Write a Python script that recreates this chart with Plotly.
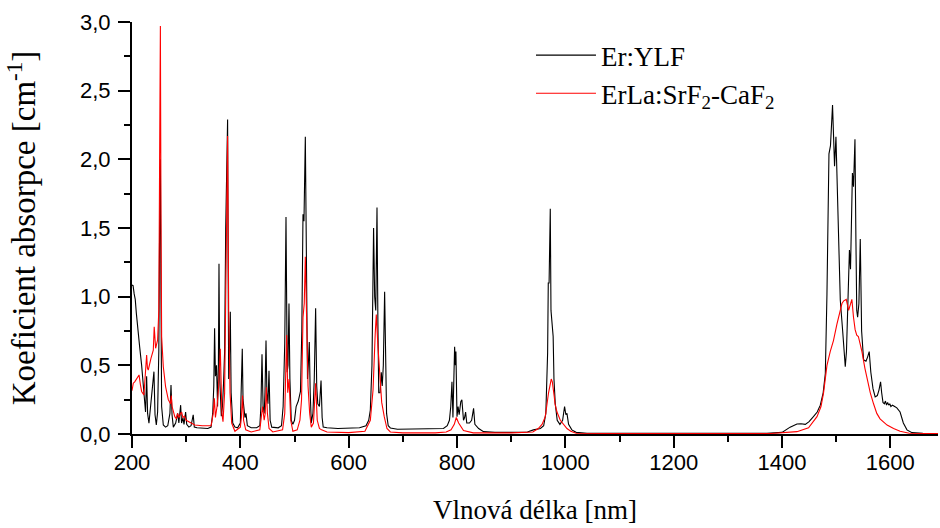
import plotly.graph_objects as go

# ---- Er:YLF (black) ----
wl_ylf = [200, 202, 204, 206, 208, 211.6, 214, 217.8, 220, 222.7, 225, 227, 228.8, 231.3, 234.6, 237.5,
          240.5, 242.5, 244.9, 247.3, 249.5, 251, 252.4, 253.5, 254.7, 257.8, 262, 266, 270, 272, 273.9,
          276.3, 280.6, 284.3, 286.5, 289.8, 291.5, 294, 296, 299, 301, 305, 309, 313, 315, 320, 330, 340,
          346, 349, 351, 352.5, 354, 356, 358, 359.5, 360.6, 362, 364.9, 367, 369, 371, 373, 374.3, 375.5,
          376.5, 377.5, 378.5, 379.8, 381.5, 383, 386, 390, 395, 400, 402, 403.6, 405, 407, 408.5, 410.4,
          413, 420, 430, 436, 438, 440, 442, 444, 445.5, 447.4, 449, 451, 452.9, 455, 458, 470, 476, 479,
          482, 484.3, 486.5, 488, 489.8, 491.5, 494, 497, 500, 503, 507, 511, 513.5, 515.7, 517.5, 520,
          522.3, 524, 525.5, 527.3, 529, 531, 534, 536.5, 539, 541, 543, 546, 549, 551, 553, 560, 580, 600,
          620, 632, 637, 640, 643, 646, 648, 650, 652.3, 654, 655.5, 658, 660.2, 662, 664, 666.4, 668, 670,
          673, 677, 690, 720, 760, 775, 782, 786, 788.5, 790.7, 792.5, 794, 795.6, 797, 798, 800, 802, 804,
          807, 809, 812, 814, 815.9, 818, 823, 827, 830.6, 833, 840, 849, 870, 900, 930, 941, 954, 960, 964,
          967.3, 968.5, 970, 971, 972.2, 973.5, 975.3, 977.5, 979, 981.4, 985, 990, 995, 998.6, 1001, 1003,
          1006, 1012, 1020, 1040, 1100, 1200, 1300, 1372, 1400, 1415, 1427.6, 1435, 1443, 1450, 1458, 1465,
          1470.7, 1476, 1480, 1483, 1486.7, 1489.5, 1493.3, 1495, 1497, 1499.6, 1501.5, 1504, 1507.6, 1512,
          1516.8, 1519, 1521, 1523, 1524.5, 1526.5, 1528.5, 1530, 1532, 1534.7, 1536.5, 1538, 1539.6, 1542,
          1544.5, 1547, 1550.6, 1555, 1558, 1561, 1564, 1568, 1572, 1576, 1579, 1582, 1584, 1586.4, 1589,
          1591, 1593, 1595, 1597, 1599, 1601, 1604, 1608, 1612, 1618, 1624, 1630.7, 1640, 1660, 1688]
abs_ylf = [1.085, 1.08, 1.02, 0.98, 0.88, 0.76, 0.64, 0.5, 0.38, 0.27, 0.16, 0.42, 0.15, 0.078, 0.2, 0.3,
           0.454, 0.14, 0.066, 0.16, 0.6, 1.5, 2.0, 1.0, 0.2, 0.066, 0.05, 0.06, 0.15, 0.357, 0.14,
           0.05, 0.08, 0.15, 0.08, 0.21, 0.08, 0.12, 0.07, 0.16, 0.07, 0.05, 0.06, 0.14, 0.05, 0.045, 0.04, 0.04,
           0.05, 0.15, 0.35, 0.77, 0.42, 0.5, 0.2, 0.5, 1.24, 0.4, 0.13, 0.2, 0.37, 0.6, 1.5, 1.84, 2.0,
           2.29, 1.2, 0.4, 0.55, 0.89, 0.3, 0.08, 0.05, 0.045, 0.08, 0.3, 0.62, 0.25, 0.18, 0.12, 0.15,
           0.06, 0.045, 0.045, 0.06, 0.2, 0.58, 0.2, 0.15, 0.3, 0.68, 0.3, 0.22, 0.46, 0.1, 0.05, 0.045, 0.06, 0.2,
           0.66, 1.58, 0.45, 0.5, 0.95, 0.4, 0.1, 0.07, 0.1, 0.2, 0.24, 0.31, 0.75, 1.6, 1.55, 2.165,
           0.9, 0.4, 0.5, 0.67, 0.3, 0.08, 0.15, 0.4, 0.915, 0.35, 0.22, 0.2, 0.39, 0.12, 0.05, 0.045, 0.04, 0.04,
           0.045, 0.06, 0.1, 0.175, 0.5, 1.5, 1.0, 0.9, 1.65, 0.8, 0.3, 0.3, 0.45, 0.35, 0.5, 1.036, 0.5, 0.15,
           0.06, 0.044, 0.035, 0.035, 0.035, 0.04, 0.06, 0.1, 0.2, 0.38, 0.12, 0.3, 0.636, 0.5, 0.6, 0.126, 0.2, 0.14,
           0.235, 0.25, 0.1, 0.12, 0.16, 0.08, 0.08, 0.1, 0.187, 0.07, 0.04, 0.017, 0.012, 0.012, 0.015, 0.03, 0.04, 0.06, 0.15,
           0.59, 1.1, 1.1, 1.3, 1.64, 0.9, 0.83, 0.71, 0.4, 0.22, 0.1, 0.07, 0.1, 0.2, 0.14, 0.15,
           0.07, 0.03, 0.012, 0.006, 0.005, 0.004, 0.004, 0.005, 0.012, 0.05, 0.073, 0.075, 0.07, 0.09, 0.126, 0.16,
           0.21, 0.3, 0.44, 1.02, 2.04, 2.1, 2.396, 2.2, 1.95, 2.165, 1.9, 1.4, 0.976, 0.75,
           0.49, 0.6, 0.9, 1.3, 1.34, 1.2, 1.65, 1.9, 1.8, 2.146, 1.4, 0.9, 0.85, 0.95,
           1.42, 0.75, 0.54, 0.53, 0.56, 0.6, 0.45, 0.33, 0.27, 0.28, 0.32, 0.38, 0.3, 0.23, 0.22,
           0.24, 0.21, 0.23, 0.21, 0.22, 0.2, 0.21, 0.2, 0.19, 0.16, 0.08, 0.03, 0.01, 0.005, 0.004]

# ---- ErLa:SrF2-CaF2 (red) ----
wl_srf = [200, 202.4, 205, 208.5, 211, 213, 215.5, 217.8, 222, 225, 227, 228.5, 230, 235, 239.3, 241, 243.6,
          247.3, 249.5, 251, 252.4, 253.5, 254.7, 257.8, 262, 267, 271, 272.5, 274, 279, 282, 284, 287, 289.5,
          291.6, 294, 297, 300, 304, 310, 316, 330, 346, 350, 352, 354, 357, 360, 363, 366, 368, 371, 374,
          376.5, 378.5, 381, 384, 390, 400, 402, 404, 406, 410, 420, 436, 439, 441, 444, 446, 448, 450, 453,
          460, 478, 482, 485.5, 487.5, 490, 493, 497, 505, 510, 513, 515.7, 518, 520, 522.5, 525, 528, 531,
          535, 539, 542, 546, 550, 560, 600, 630, 640, 645, 649, 651, 654, 658.4, 661, 665.7, 670.7, 677,
          700, 760, 780, 789, 795, 798.7, 803, 812, 830, 900, 940, 950, 957, 963, 969, 974, 976, 979.6, 981,
          984.6, 990.7, 1003, 1010, 1020, 1100, 1300, 1380, 1427.6, 1449, 1464.6, 1472, 1476.7, 1480, 1483,
          1489, 1495, 1501.4, 1506, 1510.7, 1514, 1518.6, 1523, 1526, 1529, 1532, 1535, 1538, 1541, 1544,
          1547.6, 1553, 1558, 1563, 1569, 1575, 1581, 1594, 1606, 1618, 1635, 1688]
abs_srf = [0.315, 0.37, 0.38, 0.405, 0.42, 0.43, 0.36, 0.31, 0.284, 0.44, 0.575, 0.48, 0.466, 0.55, 0.61, 0.78, 0.624,
           0.685, 0.9, 2.0, 2.97, 1.6, 0.71, 0.49, 0.345, 0.25, 0.22, 0.28, 0.2, 0.126, 0.11, 0.15, 0.12, 0.15,
           0.16, 0.12, 0.13, 0.1, 0.09, 0.075, 0.066, 0.06, 0.06, 0.15, 0.26, 0.12, 0.2, 0.35, 0.62, 0.15, 0.09, 0.3, 1.2,
           2.17, 0.9, 0.3, 0.08, 0.02, 0.05, 0.12, 0.28, 0.1, 0.03, 0.015, 0.03, 0.12, 0.2, 0.1, 0.15, 0.34, 0.15, 0.04,
           0.015, 0.03, 0.15, 0.72, 0.3, 0.4, 0.1, 0.02, 0.03, 0.1, 0.25, 0.85, 0.95, 1.29, 0.75, 0.35, 0.15, 0.05,
           0.08, 0.37, 0.1, 0.04, 0.03, 0.015, 0.01, 0.02, 0.1, 0.32, 0.73, 0.87, 0.64, 0.32, 0.23, 0.126, 0.04, 0.015,
           0.008, 0.008, 0.015, 0.03, 0.07, 0.12, 0.08, 0.025, 0.008, 0.008, 0.015, 0.04, 0.07, 0.126, 0.3, 0.4, 0.38, 0.27, 0.22,
           0.16, 0.1, 0.04, 0.02, 0.006, 0.003, 0.003, 0.004, 0.017, 0.045, 0.126, 0.2, 0.3, 0.42, 0.5,
           0.6, 0.68, 0.8, 0.88, 0.95, 0.97, 0.98, 0.9, 0.95, 0.98, 0.85, 0.76, 0.72, 0.71, 0.66,
           0.6, 0.48, 0.38, 0.3, 0.22, 0.15, 0.11, 0.065, 0.04, 0.02, 0.005, 0.003]

x_tickvals = [200, 400, 600, 800, 1000, 1200, 1400, 1600]
x_ticktext = ["200", "400", "600", "800", "1000", "1200", "1400", "1600"]
x_minor = [300, 500, 700, 900, 1100, 1300, 1500]
y_tickvals = [0.0, 0.5, 1.0, 1.5, 2.0, 2.5, 3.0]
y_ticktext = ["0,0", "0,5", "1,0", "1,5", "2,0", "2,5", "3,0"]
y_minor = [0.25, 0.75, 1.25, 1.75, 2.25, 2.75]

fig = go.Figure()
fig.add_trace(go.Scatter(x=wl_ylf, y=abs_ylf, mode="lines", name="Er:YLF",
                         line=dict(color="black", width=1.1)))
fig.add_trace(go.Scatter(x=wl_srf, y=abs_srf, mode="lines", name="ErLa:SrF<sub>2</sub>-CaF<sub>2</sub>",
                         line=dict(color="#ff0000", width=1.1)))

SERIF = "Liberation Serif"
tickfont = dict(family="Liberation Sans", size=22, color="black")

fig.update_layout(
    width=940, height=528,
    margin=dict(l=132, r=2, t=22, b=94),
    paper_bgcolor="white", plot_bgcolor="white",
    font=dict(family=SERIF, color="black"),
    showlegend=True,
    legend=dict(x=0.495, y=0.978, xanchor="left", yanchor="top",
                font=dict(family=SERIF, size=27, color="black"),
                bgcolor="rgba(0,0,0,0)", tracegroupgap=0, itemwidth=60),
    xaxis=dict(range=[200, 1688], showgrid=False, zeroline=False,
               showline=True, linecolor="black", linewidth=2,
               ticks="outside", ticklen=12, tickwidth=2, tickcolor="black",
               tickmode="array", tickvals=x_tickvals, ticktext=x_ticktext,
               minor=dict(tickmode="array", tickvals=x_minor, ticks="outside", ticklen=6,
                          tickwidth=2, tickcolor="black"),
               tickfont=tickfont, ticklabelstandoff=-4,
               title=dict(text="Vlnová délka [nm]", font=dict(family=SERIF, size=27, color="black"),
                          standoff=26)),
    yaxis=dict(range=[0, 3.0], showgrid=False, zeroline=False,
               showline=True, linecolor="black", linewidth=2,
               ticks="outside", ticklen=12, tickwidth=2, tickcolor="black",
               tickmode="array", tickvals=y_tickvals, ticktext=y_ticktext,
               minor=dict(tickmode="array", tickvals=y_minor, ticks="outside", ticklen=6,
                          tickwidth=2, tickcolor="black"),
               tickfont=tickfont, ticklabelstandoff=3,
               title=dict(text="Koeficient absorpce [cm<sup>-1</sup>]",
                          font=dict(family=SERIF, size=33, color="black"), standoff=34)),
)

fig.write_html("out.html")
